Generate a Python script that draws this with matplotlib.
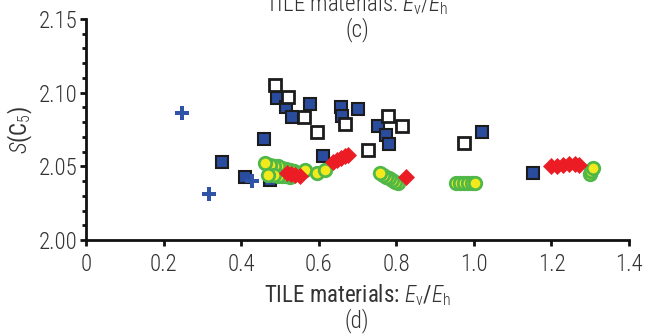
import matplotlib
matplotlib.use('Agg')
import matplotlib.pyplot as plt
from matplotlib.ticker import MultipleLocator
from matplotlib import font_manager

# Data
plus_x = [0.247, 0.318, 0.427]
plus_y = [2.086, 2.031, 2.040]

bluesq_x = [0.351, 0.410, 0.458, 0.474, 0.492, 0.516, 0.530, 0.577, 0.612,
            0.657, 0.661, 0.700, 0.752, 0.773, 0.780, 1.022, 1.153]
bluesq_y = [2.053, 2.043, 2.0685, 2.041, 2.0966, 2.0905, 2.0833, 2.092, 2.057,
            2.090, 2.084, 2.089, 2.0776, 2.071, 2.065, 2.0733, 2.0457]

open_x = [0.487, 0.522, 0.563, 0.595, 0.669, 0.726, 0.779, 0.815, 0.975]
open_y = [2.105, 2.0973, 2.0833, 2.0735, 2.0787, 2.061, 2.084, 2.0776, 2.066]

# circles listed in drawing order (last one on top)
circ_x = [0.535, 0.525, 0.515, 0.505, 0.495, 0.485, 0.475, 0.461,
          0.525, 0.515, 0.505, 0.495, 0.485, 0.470,
          0.565, 0.595, 0.616,
          0.805, 0.797, 0.789, 0.781, 0.773, 0.765, 0.758,
          0.955, 0.965, 0.975, 0.985, 0.995, 1.003,
          1.299, 1.303, 1.308]
circ_y = [2.047, 2.0475, 2.048, 2.049, 2.050, 2.0505, 2.051, 2.052,
          2.043, 2.0432, 2.0435, 2.0437, 2.044, 2.044,
          2.0475, 2.0453, 2.0475,
          2.0385, 2.0395, 2.0405, 2.0418, 2.043, 2.0442, 2.0453,
          2.0385, 2.0385, 2.0385, 2.0385, 2.0385, 2.0385,
          2.0448, 2.047, 2.049]

diam_x = [0.517, 0.528, 0.540, 0.551,
          0.637, 0.647, 0.657, 0.667, 0.675,
          0.825,
          1.200, 1.215, 1.230, 1.245, 1.260, 1.270]
diam_y = [2.0455, 2.045, 2.044, 2.0435,
          2.053, 2.0545, 2.056, 2.057, 2.0575,
          2.043,
          2.0505, 2.0505, 2.051, 2.0515, 2.0515, 2.051]

xticks = [0, 0.2, 0.4, 0.6, 0.8, 1.0, 1.2, 1.4]
xtick_labels = ['0', '0.2', '0.4', '0.6', '0.8', '1.0', '1.2', '1.4']
yticks = [2.00, 2.05, 2.10, 2.15]
ytick_labels = ['2.00', '2.05', '2.10', '2.15']

# Fonts: prefer a narrow face, the reference uses a condensed sans
names = {f.name for f in font_manager.fontManager.ttflist}
base_font = 'Roboto'
for cand in ['Liberation Sans Narrow', 'Roboto Condensed', 'Open Sans Condensed', 'Roboto']:
    if cand in names:
        base_font = cand
        break
plt.rcParams['font.family'] = [base_font, 'DejaVu Sans']
plt.rcParams['font.weight'] = 'light'
plt.rcParams['mathtext.fontset'] = 'custom'
plt.rcParams['mathtext.rm'] = base_font + ':light'
plt.rcParams['mathtext.it'] = base_font + ':italic:light'

BLUE = '#2a4c9e'
PLUS_BLUE = '#2f53a6'
RED = '#ec1c24'
GREEN = '#50b848'
YELLOW = '#f2ea1d'
TEXT = '#333333'
FS = 16.5

fig = plt.figure(figsize=(6.65, 3.34), dpi=100)
ax = fig.add_axes([0.1293, 0.2814, 0.8166, 0.6617])

ax.plot(bluesq_x, bluesq_y, 's', ms=8.6, mfc=BLUE, mec='#1c1c1c', mew=1.5, zorder=3)
ax.plot(open_x, open_y, 's', ms=8.6, mfc='white', mec='#1c1c1c', mew=2.0, zorder=3)
ax.plot(plus_x, plus_y, 'P', ms=10.5, mfc=PLUS_BLUE, mec=PLUS_BLUE, mew=0, zorder=4)
ax.plot(circ_x, circ_y, 'o', ms=9, mfc=YELLOW, mec=GREEN, mew=2.0, zorder=5)
ax.plot(diam_x, diam_y, 'D', ms=7.8, mfc=RED, mec=RED, mew=0.5, zorder=6)

ax.set_xlim(0, 1.4)
ax.set_ylim(2.00, 2.15)
ax.set_xticks(xticks)
ax.set_xticklabels(xtick_labels)
ax.set_yticks(yticks)
ax.set_yticklabels(ytick_labels)
ax.yaxis.set_minor_locator(MultipleLocator(0.01))

for side in ['top', 'right']:
    ax.spines[side].set_visible(False)
for side in ['left', 'bottom']:
    ax.spines[side].set_linewidth(2.0)
    ax.spines[side].set_color('#111111')

ax.tick_params(axis='both', which='major', direction='out', length=4, width=2,
               color='#111111', labelsize=FS, labelcolor=TEXT)
ax.tick_params(axis='x', which='major', pad=5)
ax.tick_params(axis='y', which='major', pad=2)
ax.tick_params(axis='y', which='minor', direction='out', length=3, width=2, color='#111111')

ax.set_ylabel(r'$S$(C$_5$)', fontsize=FS, color=TEXT, labelpad=3)
ax.set_xlabel(r'TILE materials: $E_\mathrm{v}$/$E_\mathrm{h}$', fontsize=FS,
              color=TEXT, labelpad=5)

fig.text(0.537, 1 - 4 / 334, r'TILE materials: $E_\mathrm{v}$/$E_\mathrm{h}$',
         fontsize=FS, color=TEXT, ha='center', va='center')
fig.text(0.537, 1 - 30 / 334, '(c)', fontsize=FS, color=TEXT, ha='center', va='center')
fig.text(0.537, 1 - 321 / 334, '(d)', fontsize=FS, color=TEXT, ha='center', va='center')

fig.savefig('out.png', dpi=100)
